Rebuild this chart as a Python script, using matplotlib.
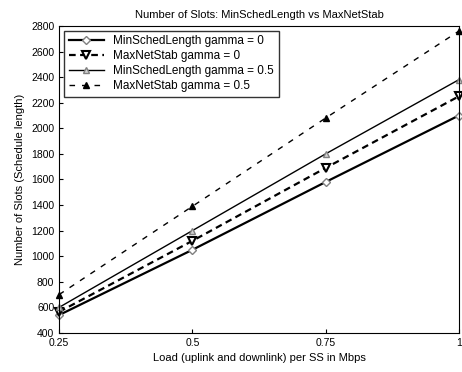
import matplotlib
matplotlib.use('Agg')
import matplotlib.pyplot as plt

plt.rcParams['font.family'] = ['Liberation Sans', 'DejaVu Sans']

carga = [0.25, 0.5, 0.75, 1.0]
min_sched_g0 = [540, 1050, 1580, 2100]
max_net_g0 = [565, 1120, 1690, 2250]
min_sched_g05 = [600, 1200, 1800, 2380]
max_net_g05 = [700, 1390, 2080, 2760]

fig = plt.figure(figsize=(4.62, 3.72), dpi=100)
ax = fig.add_axes([0.128, 0.105, 0.865, 0.825])

ax.plot(carga, min_sched_g0, '-', color='black', lw=1.6, marker='D', ms=4,
        mfc='white', mec='gray', clip_on=False, label='MinSchedLength gamma = 0')
ax.plot(carga, max_net_g0, '--', color='black', lw=1.6, marker='v', ms=6,
        mfc='white', mec='black', mew=1.5, dashes=(3, 2), clip_on=False,
        label='MaxNetStab gamma = 0')
ax.plot(carga, min_sched_g05, '-', color='black', lw=1.0, marker='^', ms=5,
        mfc='lightgray', mec='gray', clip_on=False, label='MinSchedLength gamma = 0.5')
ax.plot(carga, max_net_g05, '--', color='black', lw=1.0, marker='^', ms=5,
        mfc='black', mec='black', dashes=(4, 5), clip_on=False,
        label='MaxNetStab gamma = 0.5')

ax.set_xlim(0.25, 1.0)
ax.set_ylim(400, 2800)
ax.set_xticks(carga)
ax.set_xticklabels(['0.25', '0.5', '0.75', '1'])
ax.set_yticks(range(400, 2801, 200))
ax.tick_params(labelsize=7.5, direction='in', length=3)
ax.set_xlabel('Load (uplink and downlink) per SS in Mbps', fontsize=8)
ax.set_ylabel('Number of Slots (Schedule length)', fontsize=8)
ax.set_title('Number of Slots: MinSchedLength vs MaxNetStab', fontsize=8)
ax.legend(loc='upper left', fontsize=8.5, frameon=True, fancybox=False,
          edgecolor='black', handlelength=3.0, borderaxespad=0.4,
          labelspacing=0.25)

fig.savefig('out.png', dpi=100)
